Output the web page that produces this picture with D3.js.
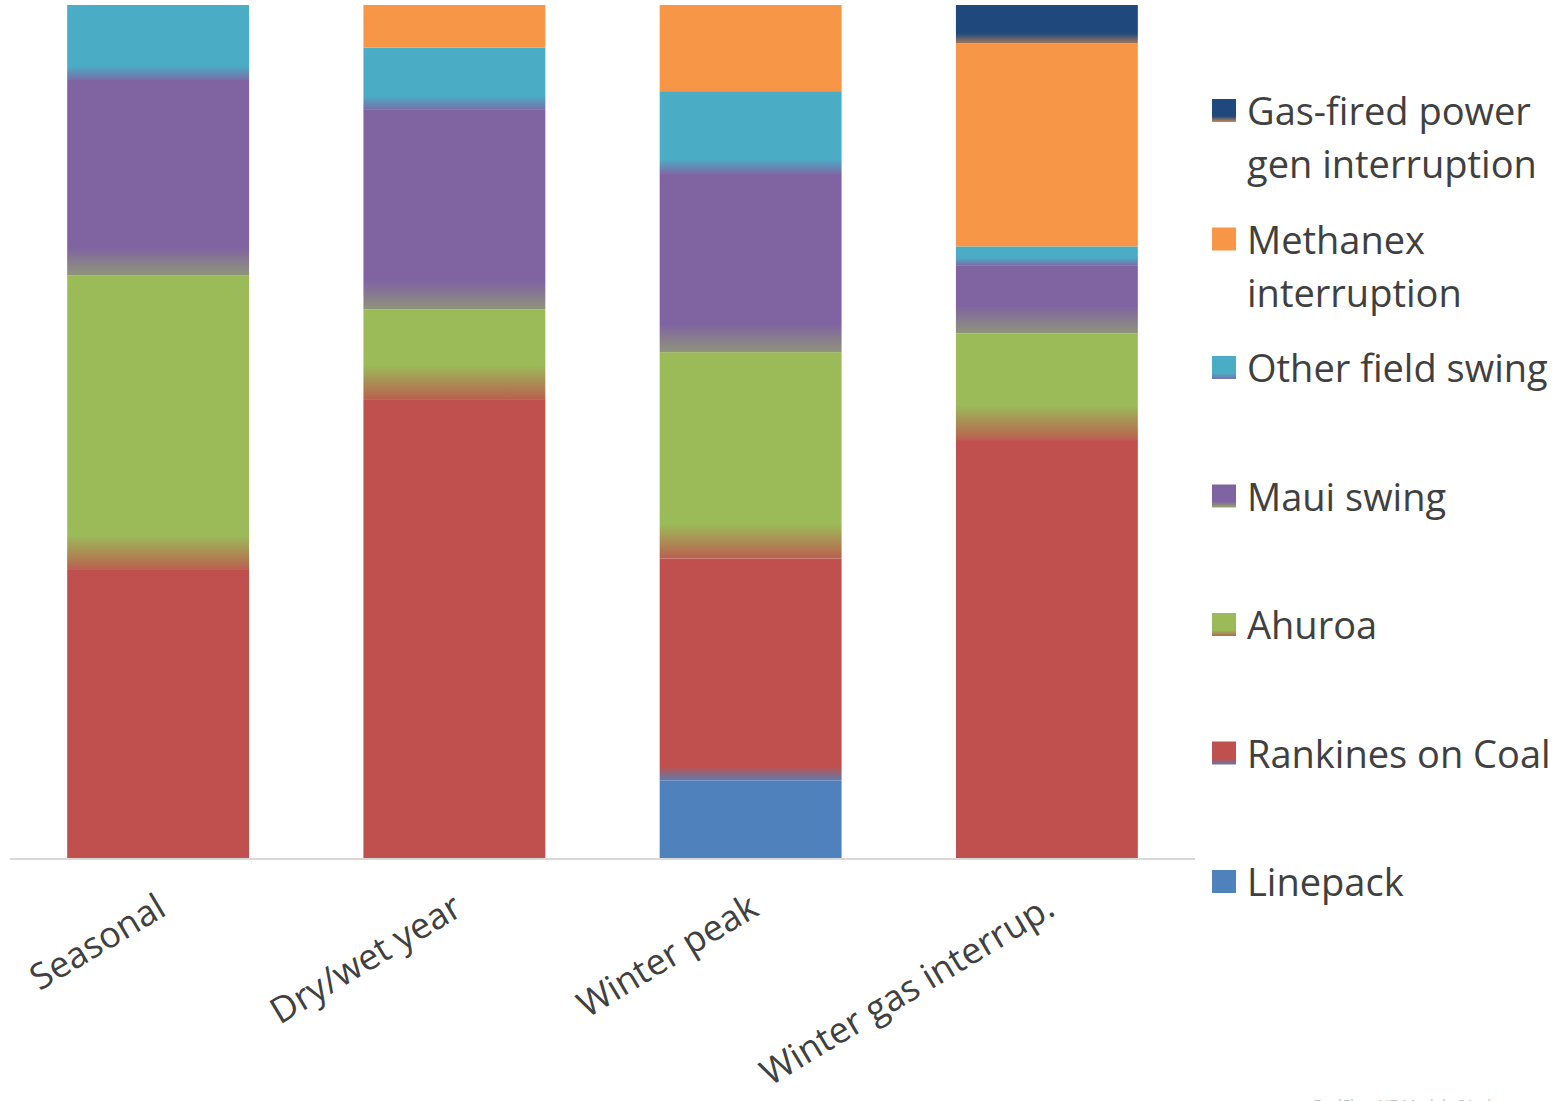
<!DOCTYPE html>
<html>
<head>
<meta charset="utf-8">
<script src="https://cdn.jsdelivr.net/npm/d3@7"></script>
<style>
  body { margin: 0; background: #fff; }
  text { font-family: 'Open Sans', 'Noto Sans', sans-serif; fill: #404040; }
</style>
</head>
<body>
<div id="chart"></div>
<script>
// categories and series values (share of each bar, %)
const categories = ['Seasonal', 'Dry/wet year', 'Winter peak', 'Winter gas interrup.'];
const linepack   = [0, 0, 9.1, 0];
const rankines   = [33.8, 53.7, 26.0, 49.0];
const ahuroa     = [34.6, 10.6, 24.2, 12.5];
const maui       = [22.9, 23.4, 21.0, 8.0];
const otherField = [8.8, 7.3, 9.6, 2.2];
const methanex   = [0, 5.0, 10.1, 23.8];
const gasFired   = [0, 0, 0, 4.5];

// series, bottom to top
const seriesNames = ['Linepack', 'Rankines on Coal', 'Ahuroa', 'Maui swing',
  'Other field swing', 'Methanex interruption', 'Gas-fired power gen interruption'];
const seriesValues = [linepack, rankines, ahuroa, maui, otherField, methanex, gasFired];
const colors = ['#4F81BD', '#C0504D', '#9BBB59', '#8064A2', '#4BACC6', '#F79646', '#1F497D'];
// which series colour each one fades into at its bottom (null = no fade),
// how many px the fade takes and how far it goes toward that colour
const fadeInto = [null, 0, 1, 2, 3, null, 5];
const fadeLen  = [0, 14, 35, 28, 14, 0, 10];
const fadeMix  = [0, 0.85, 0.85, 0.55, 0.85, 0, 0.6];

// legend lines, top to bottom
const legendLines = [
  ['Gas-fired power', 'gen interruption'],
  ['Methanex', 'interruption'],
  ['Other field swing'],
  ['Maui swing'],
  ['Ahuroa'],
  ['Rankines on Coal'],
  ['Linepack']
];

const width = 1557, height = 1101;
const plot = { left: 10, right: 1195, top: 5, bottom: 858 };

const table = categories.map((c, i) => {
  const row = { cat: c };
  seriesNames.forEach((s, j) => row[s] = seriesValues[j][i]);
  return row;
});

const stack = d3.stack().keys(seriesNames).offset(d3.stackOffsetExpand);
const layers = stack(table);

const x = d3.scaleBand().domain(categories).range([plot.left, plot.right]).paddingInner(0.386).paddingOuter(0.193);
const y = d3.scaleLinear().domain([0, 1]).range([plot.bottom, plot.top]);

const svg = d3.select('#chart').append('svg')
  .attr('width', width).attr('height', height);
const defs = svg.append('defs');

function mix(a, b, t) {
  return d3.interpolateRgb(a, b)(t);
}

// bars
layers.forEach((layer, si) => {
  const g = svg.append('g');
  layer.forEach((d, ci) => {
    const y0 = y(d[0]), y1 = y(d[1]);
    const h = y0 - y1;
    if (h <= 0.01) return;
    let fill = colors[si];
    const below = fadeInto[si];
    // only fade when the segment right below is actually there
    if (below !== null && seriesValues[below][ci] > 0) {
      const id = `grad-${si}-${ci}`;
      const fade = Math.min(fadeLen[si], h * 0.4);
      const grad = defs.append('linearGradient').attr('id', id)
        .attr('x1', 0).attr('x2', 0).attr('y1', 0).attr('y2', 1);
      grad.append('stop').attr('offset', 0).attr('stop-color', colors[si]);
      grad.append('stop').attr('offset', 1 - fade / h).attr('stop-color', colors[si]);
      grad.append('stop').attr('offset', 1).attr('stop-color', mix(colors[si], colors[below], fadeMix[si]));
      fill = `url(#${id})`;
    }
    g.append('rect')
      .attr('x', x(d.data.cat))
      .attr('y', y1)
      .attr('width', x.bandwidth())
      .attr('height', h)
      .attr('fill', fill);
  });
});

// baseline
svg.append('line')
  .attr('x1', plot.left).attr('x2', plot.right)
  .attr('y1', plot.bottom + 1).attr('y2', plot.bottom + 1)
  .attr('stroke', '#d9d9d9').attr('stroke-width', 2);

// category labels
svg.append('g').selectAll('text')
  .data(categories)
  .join('text')
  .attr('transform', d => `translate(${x(d) + x.bandwidth() / 2 + 10},${plot.bottom + 56}) rotate(-31)`)
  .attr('text-anchor', 'end')
  .style('font-size', '36px')
  .text(d => d);

// legend
const legend = svg.append('g');
legendLines.forEach((lines, i) => {
  const si = seriesNames.length - 1 - i;
  const top = 99 + i * 128.5;
  let fill = colors[si];
  if (fadeInto[si] !== null) {
    const id = `lgrad-${si}`;
    const grad = defs.append('linearGradient').attr('id', id)
      .attr('x1', 0).attr('x2', 0).attr('y1', 0).attr('y2', 1);
    grad.append('stop').attr('offset', 0).attr('stop-color', colors[si]);
    grad.append('stop').attr('offset', 0.75).attr('stop-color', colors[si]);
    grad.append('stop').attr('offset', 1).attr('stop-color', mix(colors[si], colors[fadeInto[si]], 0.8));
    fill = `url(#${id})`;
  }
  legend.append('rect')
    .attr('x', 1212).attr('y', top)
    .attr('width', 24).attr('height', 23)
    .attr('fill', fill);
  lines.forEach((line, k) => {
    legend.append('text')
      .attr('x', 1247)
      .attr('y', top + 26 + k * 53)
      .style('font-size', '38px')
      .text(line);
  });
});

// faint source note, cut off at the bottom edge as in the original
svg.append('text')
  .attr('x', 1313).attr('y', 1110)
  .style('font-size', '15px')
  .style('fill', '#c0c0c0')
  .text('FuelFlow NZ Model v21 ok');
</script>
</body>
</html>
